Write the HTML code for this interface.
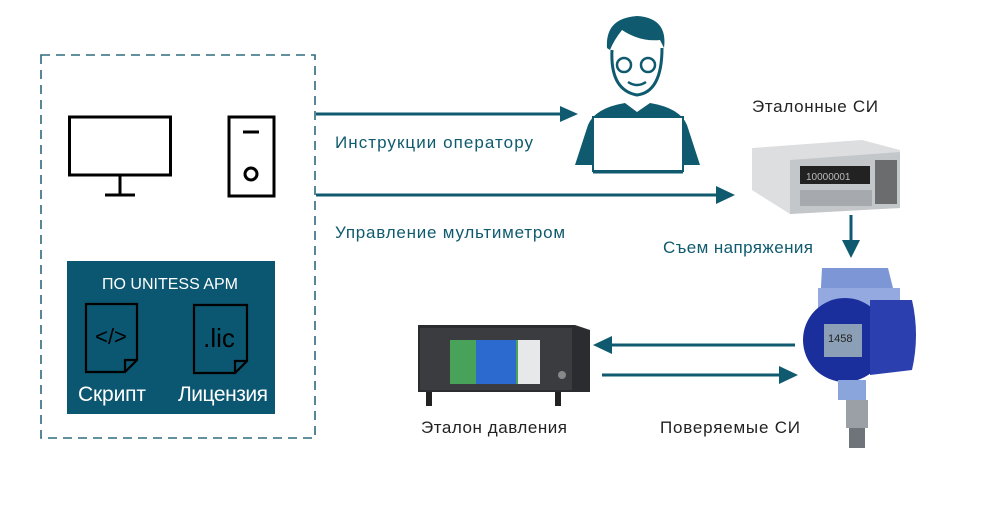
<!DOCTYPE html>
<html><head><meta charset="utf-8"><style>
html,body{margin:0;padding:0;background:#fff;}
svg{display:block;}
text{font-family:"Liberation Sans","DejaVu Sans",sans-serif;}
</style></head><body>
<svg width="1000" height="513" viewBox="0 0 1000 513" xmlns="http://www.w3.org/2000/svg">
<rect width="1000" height="513" fill="#fff"/>
<rect x="41" y="55" width="274" height="383" fill="none" stroke="#2f6b7d" stroke-width="1.6" stroke-dasharray="9,6"/>
<rect x="69.5" y="117" width="101" height="58" fill="none" stroke="#000" stroke-width="3"/>
<line x1="120" y1="175" x2="120" y2="195" stroke="#000" stroke-width="3"/>
<line x1="105" y1="195" x2="135" y2="195" stroke="#000" stroke-width="3"/>
<rect x="229" y="117" width="45" height="79" fill="none" stroke="#000" stroke-width="3"/>
<line x1="243" y1="132" x2="259" y2="132" stroke="#000" stroke-width="3"/>
<circle cx="251" cy="174" r="6" fill="none" stroke="#000" stroke-width="3"/>
<rect x="67" y="261" width="208" height="153" fill="#0b5670"/>
<text x="170" y="289" text-anchor="middle" font-size="16" fill="#fff">ПО UNITESS APM</text>
<path d="M86 304 H137 V360 L125 372 H86 Z M125 372 V360 H137" fill="none" stroke="#000" stroke-width="2.2"/>
<text x="111" y="344" text-anchor="middle" font-size="22" fill="#000">&lt;/&gt;</text>
<path d="M194 305 H247 V361 L235 373 H194 Z M235 373 V361 H247" fill="none" stroke="#000" stroke-width="2.2"/>
<text x="219" y="347" text-anchor="middle" font-size="26" fill="#000">.lic</text>
<text x="112" y="401" text-anchor="middle" font-size="21" fill="#fff" textLength="68">Скрипт</text>
<text x="223" y="401" text-anchor="middle" font-size="21" fill="#fff" textLength="90">Лицензия</text>
<g stroke="#0f5a6e" stroke-width="3" fill="#0f5a6e">
<line x1="316" y1="114" x2="562" y2="114"/>
<polygon points="560,106 578,114 560,122" stroke="none"/>
<line x1="316" y1="195" x2="718" y2="195"/>
<polygon points="716,186 735,195 716,204" stroke="none"/>
<line x1="851" y1="215" x2="851" y2="243"/>
<polygon points="842,240 851,258 860,240" stroke="none"/>
<line x1="795" y1="345" x2="610" y2="345"/>
<polygon points="612,336 593,345 612,354" stroke="none"/>
<line x1="602" y1="375" x2="780" y2="375"/>
<polygon points="779,366 798,375 779,384" stroke="none"/>
</g>
<g font-size="17" fill="#0f5a6e">
<text x="335" y="148" textLength="198">Инструкции оператору</text>
<text x="335" y="238" textLength="230">Управление мультиметром</text>
<text x="663" y="253" textLength="150">Съем напряжения</text>
</g>
<g font-size="17" fill="#222">
<text x="752" y="112" textLength="126">Эталонные СИ</text>
<text x="421" y="433" textLength="146">Эталон давления</text>
<text x="660" y="433" textLength="140">Поверяемые СИ</text>
</g>
<g>
<path d="M607 48 Q605 18 637 16 Q668 18 664 48 L660 40 Q640 42 622 30 Q614 40 610 50 Z" fill="#0f5a6e"/>
<path d="M612 50 Q610 90 637 95 Q662 92 662 48" fill="#fff" stroke="#0f5a6e" stroke-width="3"/>
<circle cx="624" cy="65" r="7" fill="none" stroke="#0f5a6e" stroke-width="2.5"/>
<circle cx="648" cy="65" r="7" fill="none" stroke="#0f5a6e" stroke-width="2.5"/>
<path d="M628 82 Q637 88 646 82" fill="none" stroke="#0f5a6e" stroke-width="2.5"/>
<path d="M575 165 L588 125 Q595 108 625 103 L637 112 L650 103 Q680 108 687 125 L700 165 Z" fill="#0f5a6e"/>
<rect x="593" y="117" width="90" height="54" fill="#fff" stroke="#0f5a6e" stroke-width="2"/>
<line x1="593" y1="172" x2="683" y2="172" stroke="#0f5a6e" stroke-width="3"/>
</g>
<g>
<path d="M752 148 L862 140 L900 150 L900 208 L790 214 L752 190 Z" fill="#dcdee0"/>
<path d="M790 160 L900 152 L900 208 L790 214 Z" fill="#c4c7ca"/>
<rect x="800" y="166" width="70" height="18" fill="#222"/>
<text x="806" y="180" font-size="10" fill="#bbb">10000001</text>
<rect x="800" y="190" width="72" height="16" fill="#a6aaae"/>
<rect x="875" y="160" width="22" height="44" fill="#6a6c6e"/>
</g>
<g>
<path d="M822 268 L888 268 L896 300 L820 305 Z" fill="#7d97d6"/>
<rect x="818" y="288" width="82" height="22" fill="#93a9e0"/>
<circle cx="845" cy="340" r="42" fill="#1a2e9c"/>
<path d="M870 300 L912 300 Q920 335 912 370 L870 375 Z" fill="#2b3fae"/>
<rect x="824" y="324" width="38" height="33" fill="#8ba0b6"/>
<text x="828" y="342" font-size="11" fill="#222">1458</text>
<rect x="838" y="380" width="28" height="20" fill="#8aa4dc"/>
<rect x="846" y="400" width="22" height="28" fill="#9aa0a6"/>
<rect x="849" y="428" width="16" height="20" fill="#6e747a"/>
</g>
<g>
<path d="M418 325 L575 325 L590 330 L590 392 L418 392 Z" fill="#2a2c2f"/>
<rect x="420" y="328" width="152" height="62" fill="#3a3c40"/>
<rect x="450" y="340" width="70" height="44" fill="#49a25a"/>
<rect x="476" y="340" width="40" height="44" fill="#2d6ad0"/>
<rect x="518" y="340" width="22" height="44" fill="#e6e8ea"/>
<rect x="426" y="392" width="6" height="14" fill="#222"/>
<rect x="555" y="392" width="6" height="14" fill="#222"/>
<circle cx="562" cy="375" r="4" fill="#888"/>
</g>
</svg>
</body></html>
